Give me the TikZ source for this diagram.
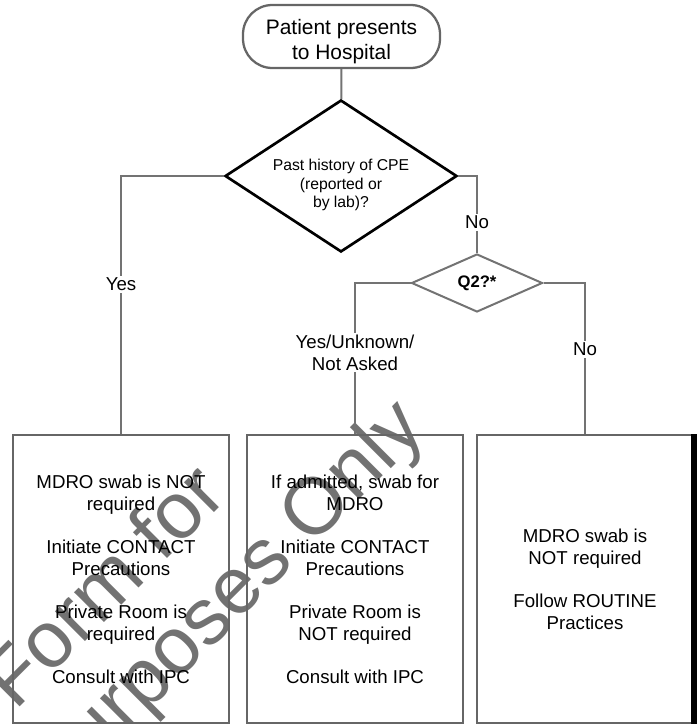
\documentclass[tikz,border=0pt]{standalone}
\usepackage{fontspec}
\setmainfont{Liberation Sans}
\usetikzlibrary{shapes.geometric}
\tikzset{every node/.style={font=\fontsize{14}{16.5}\selectfont}}
\tikzset{conn/.style={draw=black!55, line width=1.5pt}}
\tikzset{startbox/.style={rectangle, rounded corners=22pt, draw=black!60, line width=1.7pt,
    minimum width=147.75pt, minimum height=47.25pt}}
\tikzset{decision/.style={diamond, draw, inner sep=0pt}}
\tikzset{endbox/.style={rectangle, draw=black!60, line width=1.5pt, inner sep=0pt,
    minimum width=162pt, minimum height=216pt, align=center}}
\tikzset{lbl/.style={fill=white, inner sep=1.5pt, align=center}}
\tikzset{wmark/.style={text=black!65, opacity=0.85, rotate=45, inner sep=0pt,
    font=\fontsize{60}{70}\selectfont}}

\begin{document}
\begin{tikzpicture}[x=0.75pt,y=-0.75pt]
		\useasboundingbox (0,0) rectangle (696,724);
		% watermark
		\node[wmark] (wmone) at (102,584) {Form for};
		\node[wmark] (wmtwo) at (228,602) {Purposes Only};
		% top of the chart
		\node[startbox, label={[align=center, yshift=-3.5pt, font=\fontsize{15.7}{18.75}\selectfont]center:Patient presents\\to Hospital}]
		  (start) at (341.5,36.5) {};
		\node[decision, line width=2pt, minimum width=174pt, minimum height=114pt,
		  label={[align=center, yshift=-7pt, font=\fontsize{11.8}{13.9}\selectfont]center:Past history of CPE\\(reported or\\by lab)?}]
		  (cpe) at (341,176) {};
		\node[decision, draw=black!55, line width=1.5pt, aspect=2.26,
		  minimum width=98.25pt, minimum height=43.5pt,
		  font=\bfseries\fontsize{12.5}{14}\selectfont] (qtwo) at (477,283) {Q2?*};
		% outcomes
		\node[endbox] (yesbox) at (121,579) {MDRO swab is NOT\\required\\[15.75pt]Initiate CONTACT\\Precautions\\[15.75pt]Private Room is\\required\\[15.75pt]Consult with IPC};
		\node[endbox] (askbox) at (355,579) {If admitted, swab for\\MDRO\\[15.75pt]Initiate CONTACT\\Precautions\\[15.75pt]Private Room is\\NOT required\\[15.75pt]Consult with IPC};
		\node[endbox] (nobox) at (585,579) {MDRO swab is\\NOT required\\[15.75pt]Follow ROUTINE\\Practices};
		\draw[line width=4.5pt] (nobox.north east) -- (nobox.south east);
		% connectors
		\draw[conn] (start) -- (cpe);
		\draw[conn] (cpe.west) -| (yesbox.north) node[lbl, pos=0.71] {Yes};
		\draw[conn] (cpe.east) -| (qtwo.north) node[lbl, pos=0.80] {No};
		\draw[conn] (qtwo.west) -| (askbox.north) node[lbl, pos=0.73] {Yes/Unknown/\\Not Asked};
		\draw[conn] (qtwo.east) -| (nobox.north) node[lbl, pos=0.72] {No};
		\end{tikzpicture}
\end{document}
